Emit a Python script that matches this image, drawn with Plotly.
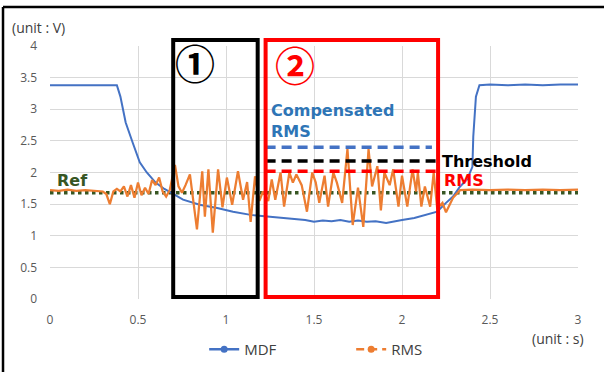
import plotly.graph_objects as go

# ---------------- data ----------------
t_mdf = [0.00, 0.10, 0.20, 0.30, 0.38, 0.40, 0.43, 0.47, 0.51, 0.55, 0.60, 0.65, 0.70,
         0.756, 0.85, 0.95, 1.04, 1.14, 1.25, 1.36, 1.45, 1.50, 1.55, 1.60, 1.65, 1.70,
         1.75, 1.80, 1.85, 1.91, 1.96, 2.00, 2.07, 2.14, 2.20, 2.25, 2.29, 2.33, 2.37,
         2.40, 2.405, 2.42, 2.44, 2.50, 2.60, 2.70, 2.80, 2.90, 3.00]
mdf = [3.38, 3.38, 3.37, 3.38, 3.38, 3.20, 2.79, 2.47, 2.16, 2.00, 1.84, 1.74, 1.66,
       1.57, 1.49, 1.44, 1.38, 1.33, 1.30, 1.27, 1.25, 1.22, 1.24, 1.23, 1.25, 1.22,
       1.24, 1.22, 1.23, 1.20, 1.23, 1.25, 1.28, 1.33, 1.38, 1.52, 1.62, 1.78, 1.89,
       2.09, 2.57, 3.20, 3.38, 3.39, 3.38, 3.39, 3.38, 3.39, 3.39]

t_rms = [0.00, 0.05, 0.10, 0.15, 0.20, 0.25, 0.30, 0.32, 0.34, 0.36, 0.38, 0.40, 0.42,
         0.44, 0.46, 0.48, 0.50, 0.52, 0.54, 0.56, 0.58, 0.60, 0.62, 0.64, 0.66, 0.68,
         0.71, 0.73, 0.75, 0.77, 0.795, 0.835, 0.865, 0.88, 0.90, 0.925, 0.955, 0.98,
         1.005, 1.035, 1.068, 1.097, 1.12, 1.14, 1.165, 1.19, 1.21, 1.24, 1.26, 1.28,
         1.31, 1.33, 1.36, 1.38, 1.40, 1.43, 1.46, 1.49, 1.51, 1.53, 1.56, 1.58, 1.61,
         1.63, 1.66, 1.69, 1.72, 1.75, 1.78, 1.81, 1.83, 1.86, 1.88, 1.90, 1.93, 1.95,
         1.98, 2.00, 2.03, 2.06, 2.08, 2.09, 2.11, 2.13, 2.16, 2.18, 2.20, 2.23, 2.25,
         2.29, 2.33, 2.40, 2.50, 2.60, 2.70, 2.80, 2.90, 3.00]
rms = [1.72, 1.71, 1.73, 1.71, 1.72, 1.71, 1.70, 1.66, 1.50, 1.70, 1.74, 1.70, 1.78,
       1.62, 1.80, 1.60, 1.84, 1.64, 1.76, 1.66, 1.88, 1.80, 1.92, 1.70, 1.62, 1.72,
       2.12, 1.78, 1.68, 1.80, 1.97, 1.10, 2.02, 1.30, 2.05, 1.05, 2.05, 1.45,
       1.92, 1.49, 2.02, 1.57, 1.85, 1.22, 1.94, 1.55, 1.70, 1.55, 1.89, 1.57,
       2.00, 1.46, 2.00, 1.84, 1.97, 1.80, 1.38, 2.00, 1.84, 1.52, 1.95, 1.46, 2.00,
       1.84, 1.52, 2.37, 1.17, 1.76, 1.14, 2.37, 1.78, 2.10, 1.40, 2.00, 1.80, 2.05,
       1.46, 1.95, 1.46, 2.05, 1.70, 2.00, 1.46, 1.78, 1.46, 2.00, 1.43, 1.52, 1.37,
       1.60, 1.72, 1.73, 1.72, 1.73, 1.72, 1.73, 1.72, 1.73]

ref_level = 1.68
ref_span = [0.0, 3.0]

region2_start = 1.225
level_names = ["Compensated RMS", "Threshold", "RMS"]
level_values = [2.40, 2.18, 2.02]
level_ends = [2.17, 2.20, 2.20]
level_colors = ["#4472C4", "#000000", "#FF0000"]

box1_span = [0.70, 1.18]
box2_span = [1.225, 2.205]

x_ticks = [0, 0.5, 1, 1.5, 2, 2.5, 3]
y_ticks = [0, 0.5, 1, 1.5, 2, 2.5, 3, 3.5, 4]

BLUE = "#4472C4"
ORANGE = "#ED7D31"
GREEN = "#375623"
FONT = "Open Sans"
BOLD = "DejaVu Sans"
CJK = "Noto Sans CJK KR"

fig = go.Figure()

# reference (dotted)
fig.add_trace(go.Scatter(x=ref_span, y=[ref_level, ref_level], mode="lines",
                         line=dict(color=GREEN, width=3.5, dash="dot"),
                         showlegend=False, hoverinfo="skip"))

# main series
fig.add_trace(go.Scatter(x=t_mdf, y=mdf, mode="lines",
                         line=dict(color=BLUE, width=2), showlegend=False))
fig.add_trace(go.Scatter(x=t_rms, y=rms, mode="lines",
                         line=dict(color=ORANGE, width=2.25), showlegend=False))

# level dashed lines
for name, val, end, col in zip(level_names, level_values, level_ends, level_colors):
    fig.add_trace(go.Scatter(x=[region2_start, end], y=[val, val], mode="lines",
                             line=dict(color=col, width=3.5, dash="10px,6px"),
                             showlegend=False, hoverinfo="skip"))

# legend-only entries
fig.add_trace(go.Scatter(x=[None], y=[None], mode="lines+markers", name="MDF",
                         line=dict(color=BLUE, width=2.5), marker=dict(size=7, color=BLUE)))
fig.add_trace(go.Scatter(x=[None], y=[None], mode="lines+markers", name="RMS",
                         line=dict(color=ORANGE, width=2.5, dash="8px,5px"),
                         marker=dict(size=7, color=ORANGE)))

# boxes
fig.add_shape(type="rect", xref="x", yref="paper", x0=box1_span[0], x1=box1_span[1],
              y0=0.008, y1=1.024, line=dict(color="black", width=4))
fig.add_shape(type="rect", xref="x", yref="paper", x0=box2_span[0], x1=box2_span[1],
              y0=0.008, y1=1.024, line=dict(color="#FF0000", width=4))

# outer frame (left + top)
fig.add_shape(type="line", xref="paper", yref="paper", x0=-0.089, x1=-0.089,
              y0=-0.30, y1=1.154, line=dict(color="black", width=2.5))
fig.add_shape(type="line", xref="paper", yref="paper", x0=-0.089, x1=1.06,
              y0=1.154, y1=1.154, line=dict(color="black", width=2.5))

ann = [
    dict(text="(unit : V)", xref="paper", yref="paper", x=-0.0758, y=1.075,
         xanchor="left", yanchor="middle", font=dict(size=14, color="#404040", family=FONT)),
    dict(text="(unit : s)", xref="paper", yref="paper", x=1.015, y=-0.158,
         xanchor="right", yanchor="middle", font=dict(size=14, color="#404040", family=FONT)),
    dict(text="<b>①</b>", xref="x", yref="paper", x=0.824, y=0.937, xanchor="center",
         yanchor="middle", font=dict(size=40, color="black", family=CJK)),
    dict(text="<b>②</b>", xref="x", yref="paper", x=1.393, y=0.93, xanchor="center",
         yanchor="middle", font=dict(size=40, color="#FF0000", family=CJK)),
    dict(text="<b>Compensated<br>RMS</b>", xref="x", yref="y", x=1.245, y=2.81,
         xanchor="left", yanchor="middle", align="left",
         font=dict(size=16, color="#2E75B6", family=BOLD)),
    dict(text="<b>Threshold</b>", xref="x", yref="y", x=2.216, y=2.17,
         xanchor="left", yanchor="middle", font=dict(size=16, color="black", family=BOLD)),
    dict(text="<b>RMS</b>", xref="x", yref="y", x=2.227, y=1.87,
         xanchor="left", yanchor="middle", font=dict(size=16, color="#FF0000", family=BOLD)),
    dict(text="<b>Ref</b>", xref="x", yref="y", x=0.028, y=1.87,
         xanchor="left", yanchor="middle", font=dict(size=16, color=GREEN, family=BOLD)),
]
for a in ann:
    a["showarrow"] = False
    fig.add_annotation(**a)

fig.update_layout(
    width=604, height=372,
    margin=dict(l=50, r=26, t=46, b=73, autoexpand=False),
    paper_bgcolor="white", plot_bgcolor="white",
    font=dict(family=FONT, size=12, color="#595959"),
    legend=dict(orientation="h", x=0.292, xanchor="left", y=-0.2, yanchor="middle",
                font=dict(size=15, color="#404040", family=FONT), entrywidth=102),
    xaxis=dict(range=[0, 3], tickvals=x_ticks, showgrid=True, gridcolor="#d9d9d9",
               gridwidth=1, zeroline=False, showline=False, ticklabelstandoff=12,
               automargin=False, tickfont=dict(size=12, color="#595959")),
    yaxis=dict(range=[0, 4], tickvals=y_ticks, showgrid=True, gridcolor="#d9d9d9",
               gridwidth=1, zeroline=False, showline=False, ticklabelstandoff=12,
               automargin=False, tickfont=dict(size=12, color="#595959")),
)

fig.write_html("out.html")
